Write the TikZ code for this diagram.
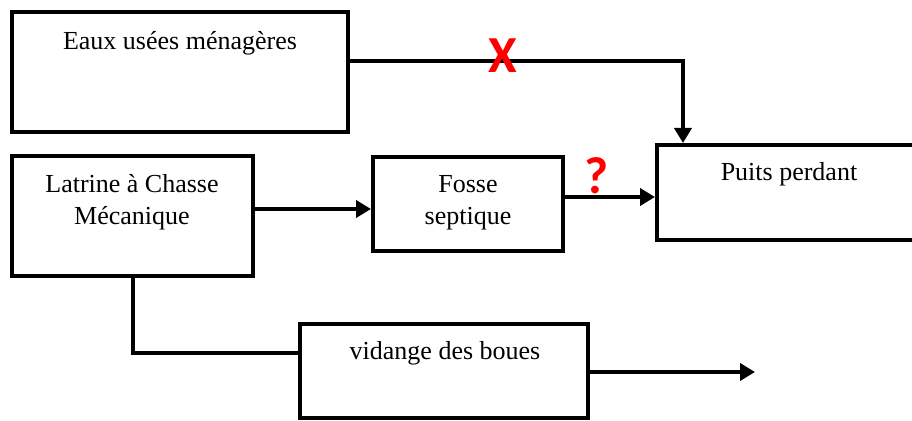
\documentclass[tikz,border=0pt]{standalone}
\usepackage{fontspec}
\setmainfont{Liberation Serif}
\newfontfamily\markfont{Carlito}
\usepackage{tikz}
\usetikzlibrary{arrows.meta, positioning, calc}

\begin{document}
\begin{tikzpicture}[
    x=0.5pt, y=-0.5pt,
    every node/.style={font=\fontsize{13}{16}\selectfont},
    box/.style={draw=black, line width=2pt, fill=white, inner sep=0pt},
    lbl/.style={align=center, inner sep=0pt},
    redmark/.style={text=red, inner sep=0pt, font=\markfont\bfseries\fontsize{26}{26}\selectfont},
    arr/.style={-{Triangle[length=7.5pt, width=8.5pt]}, line width=2pt},
    link/.style={line width=2pt},
]
\useasboundingbox (0,0) rectangle (912,421);

% Boxes
\node[box, minimum width=168pt, minimum height=60pt] (eaux) at (180,72) {};
\node[box, minimum width=120.5pt, minimum height=60pt] (latrine) at (132.5,216) {};
\node[box, minimum width=95pt, minimum height=47pt] (fosse) at (468,204) {};
\node[box, minimum width=132pt, minimum height=47.5pt] (puits) at (789,192.5) {};
\node[box, minimum width=144pt, minimum height=47pt] (vidange) at (444,371) {};

% Texts
\node[lbl] (eauxtxt) at (180,43) {Eaux usées ménagères};
\node[lbl] (latrinetxt) at (132,202) {Latrine à Chasse\\Mécanique};
\node[lbl] (fossetxt) at (468,203) {Fosse\\septique};
\node[lbl] (puitstxt) at (789,174) {Puits perdant};
\node[lbl] (vidangetxt) at (445,353) {vidange des boues};

% Connectors
\draw[arr] ([yshift=5.5pt]eaux.east) -| ([xshift=-53pt]puits.north);
\draw[arr] ([yshift=3.5pt]latrine.east) -- ([yshift=3.5pt]latrine.east -| fosse.west);
\draw[arr] ([yshift=3.5pt]fosse.east) -- ([yshift=3.5pt]fosse.east -| puits.west);
\draw[link] (latrine.south) |- ([yshift=9pt]vidange.west);
\coordinate (sortie) at (755,372);
\draw[arr] (vidange.east |- sortie) -- (sortie);

% Marks
\node[redmark] (croix) at (503,56) {X};
\node[redmark] (question) at (597,176) {?};

\end{tikzpicture}
\end{document}
